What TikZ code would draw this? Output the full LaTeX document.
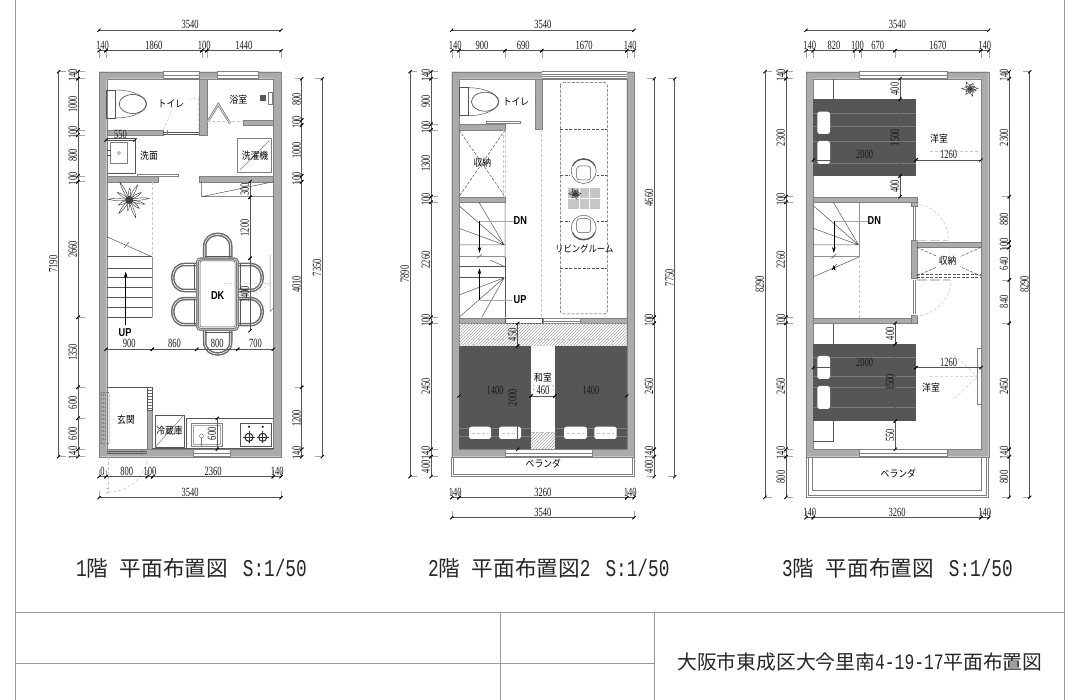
\documentclass[tikz,border=0pt]{standalone}
\usepackage{fontspec}
\usetikzlibrary{patterns,arrows.meta}
\setmainfont{Liberation Serif}
\newfontfamily\dimf[FakeStretch=0.68]{Liberation Serif}
\newfontfamily\cjkf[FakeStretch=0.88]{Noto Sans CJK JP}
\newfontfamily\ttlc{Noto Sans CJK JP}
\newfontfamily\ttlm[FakeStretch=0.74]{Liberation Mono}
\newfontfamily\sansb[FakeStretch=0.8]{Liberation Sans}
\definecolor{wallc}{HTML}{ABABAB}
\definecolor{bedc}{HTML}{565656}
\definecolor{linec}{HTML}{555555}
\definecolor{framec}{HTML}{999999}
\newcommand\tm{\ttlm\fontsize{24}{24}\selectfont}
\newcommand\tc{\ttlc\fontsize{21.6}{22}\selectfont}
\tikzset{
  wall/.style={fill=wallc,draw=gray,line width=.3pt},
  thin/.style={draw=linec,line width=.5pt},
  lit/.style={draw=gray!45,line width=.5pt,dash pattern=on 3pt off 2pt},
  dd/.style={draw=linec,line width=.5pt,dash pattern=on 3pt off 1.5pt},
  dl/.style={draw=linec,line width=.55pt},
  ext/.style={draw=gray!70,line width=.4pt},
  tick/.style={draw=black,line width=.9pt},
  dimt/.style={font=\dimf\fontsize{12.5}{12.5}\selectfont,text=black!90,inner sep=0pt},
  lab/.style={font=\cjkf\fontsize{10}{10}\selectfont,text=black,inner sep=0pt},
  bold/.style={font=\sansb\bfseries\fontsize{11.5}{11.5}\selectfont,inner sep=0pt},
  ttl/.style={anchor=west,inner sep=0pt,text=black!85},
  seat/.style={draw=gray!85!black,line width=1.5pt,double=white,double distance=.6pt},
  bedf/.style={fill=bedc},
  stripe/.style={draw=bedc!78!white,line width=.8pt},
  pillow/.style={fill=white,rounded corners=2.5pt}
}
\newcommand\tk[2]{\draw[tick] ({#1-1.6},{#2+1.6}) -- ({#1+1.6},{#2-1.6});}
% horizontal chain: y, ext length, list of x1/x2/label
\newcommand\hc[3]{\foreach \a/\b/\t in {#3}{%
  \draw[dl] (\a,#1) -- (\b,#1);
  \draw[ext] (\a,#1) -- (\a,{#1+#2}); \draw[ext] (\b,#1) -- (\b,{#1+#2});
  \tk{\a}{#1}\tk{\b}{#1}
  \node[dimt] at ({(\a+\b)/2},{#1-5.4}) {\t};}}
% vertical chain: x, ext length (signed), list of y1/y2/label
\newcommand\vc[3]{\foreach \a/\b/\t in {#3}{%
  \draw[dl] (#1,\a) -- (#1,\b);
  \draw[ext] (#1,\a) -- ({#1+#2},\a); \draw[ext] (#1,\b) -- ({#1+#2},\b);
  \tk{#1}{\a}\tk{#1}{\b}
  \node[dimt,rotate=90] at ({#1-5.2},{(\a+\b)/2}) {\t};}}
\newcommand\win[4]{\fill[white] (#1,#2) rectangle (#3,#4);
  \draw[thin,draw=gray] (#1,#2) rectangle (#3,#4);
  \draw[thin,draw=gray] (#1,{(#2+#4)/2}) -- (#3,{(#2+#4)/2});}
\newcommand\chairm[3]{\begin{scope}[shift={(#1,#2)},rotate=#3]
  \draw[seat] (-13,0) -- (-13,-12) .. controls (-13,-28) and (13,-28) .. (13,-12) -- (13,0);
  \draw[thin] (-13,-2) -- (13,-2);
  \end{scope}}
\newcommand\toilet[2]{%
  \draw[thin] (#1,{#2-14}) rectangle ({#1+9},{#2+14});
  \draw[thin] ({#1+9},{#2-14}) .. controls ({#1+27},{#2-14}) and ({#1+40},{#2-7}) .. ({#1+40},#2)
     .. controls ({#1+40},{#2+7}) and ({#1+27},{#2+14}) .. ({#1+9},{#2+14});
  \draw[linec,line width=.7pt] ({#1+26},#2) ellipse [x radius=13.5pt,y radius=9.5pt];}
\newcommand\plant[3]{\begin{scope}[shift={(#1,#2)}]
  \foreach \r/\l in {5/1,32/.7,61/.85,88/.6,118/1,147/.7,178/1.05,205/.6,232/.85,262/.55,290/.95,320/.65,345/.8}{
   \begin{scope}[rotate=\r]
   \draw[draw=black!80,line width=.4pt] (0,0) .. controls ({#3*\l*.4},-1.6) and ({#3*\l*.75},-1.4) .. ({#3*\l},0)
     .. controls ({#3*\l*.75},1.4) and ({#3*\l*.4},1.6) .. (0,0);
   \end{scope}}
  \fill[black!75] (0,0) circle [radius=#3*.2pt];
  \end{scope}}
\newcommand\armchair[3]{\begin{scope}[shift={(#1,#2)},rotate=#3]
  \draw[thin] (0,0) circle [radius=12.5pt];
  \draw[thin,rounded corners=3pt] (-7,-5) rectangle (7,9);
  \draw[line width=1.2pt,linec] (-11,-5) .. controls (-8,-14) and (8,-14) .. (11,-5);
  \end{scope}}
\newcommand\stairtop{%
  \draw[thin] (20,202.3) -- (45.3,245) (0,205.7) -- (45.3,245) (0,228.3) -- (45.3,245)
     (0,245) -- (45.3,245) (0,256.7) -- (46,256.7) (46,202.3) -- (46,256.7);
  \draw[ext] (20.5,221) -- (55,221);
  \draw[draw=black,line width=.5pt,-{Stealth[length=6pt,width=3.5pt]}] (20.5,221) -- (20.5,253);
  \draw[thin] (18,258.5) -- (23,254);}
\begin{document}
\begin{tikzpicture}[x=1pt,y=-1pt]
\useasboundingbox (0,0) rectangle (1080,700);
\fill[white] (0,0) rectangle (1080,700);
% ---------- frame ----------
\draw[framec,line width=.7pt] (15,0) -- (15,700) (1064.5,0) -- (1064.5,700);
\draw[framec,line width=.7pt] (15,612.5) -- (1064.5,612.5) (15,663.5) -- (654.5,663.5);
\draw[framec,line width=.6pt] (500.5,612.5) -- (500.5,700) (654.5,612.5) -- (654.5,700);
% ---------- titles ----------
\node[ttl] at (76,568) {{\tm 1}{\tc 階}\hspace{11.4pt}{\tc 平面布置図}\hspace{15pt}{\tm S:1/50}};
\node[ttl] at (428,568) {{\tm 2}{\tc 階}\hspace{11.4pt}{\tc 平面布置図}{\tm 2}\hspace{15pt}{\tm S:1/50}};
\node[ttl] at (782,568) {{\tm 3}{\tc 階}\hspace{11.4pt}{\tc 平面布置図}\hspace{15pt}{\tm S:1/50}};
\node[ttl] at (677,662) {{\ttlc\fontsize{19.8}{20}\selectfont 大阪市東成区大今里南}{\ttlm\fontsize{22}{22}\selectfont 4-19-17}{\ttlc\fontsize{19.8}{20}\selectfont 平面布置図}};

% =================== FLOOR 1 ===================
\fill[wall,even odd rule] (99,71.7) rectangle (281,456.7) (106.7,78.7) rectangle (273.5,449.3);
\win{163.3}{71.7}{199.3}{78.7}
\win{217.3}{71.7}{258.3}{78.7}
\win{193.3}{449.3}{230}{456.7}
\fill[wall] (199.3,78.7) rectangle (207,135);
\fill[wall] (106.7,130) rectangle (163.3,135);
\fill[wall] (243.3,120) rectangle (273.5,125);
\fill[wall] (106.7,176) rectangle (157.7,181.7);
\fill[wall] (199,176) rectangle (273.5,181.7);
\fill[wall] (147.3,410) rectangle (152.3,449.3);
\fill[pattern=horizontal lines,pattern color=gray!80!black] (147.3,387.3) rectangle (152.3,410);
\draw[thin] (147.3,387.3) rectangle (152.3,410);
\draw[thin] (106.7,387.3) -- (147.3,387.3);
% toilet & doors
\toilet{106.7}{104}
\draw[thin] (163.3,132) -- (199.3,132) (163.3,134) -- (199.3,134);
\draw[lit] (163.3,130) -- (171.5,111.5) (198.3,98) -- (198.3,130) (188,99.3) -- (198.3,98);
\draw[thin,draw=gray] (167,130.5) -- (167,135.5);
% bath
\draw[draw=gray,line width=.9pt,double=white,double distance=.5pt] (207.7,121.7) -- (218.3,104.3) -- (230,123.3);
\draw[lit] (207,121.7) -- (243.3,121.7);
\fill[black!65] (259.7,95.3) rectangle (265.7,101.3);
\draw[thin,draw=gray] (268,92) rectangle (272.5,104);
% sink
\draw[thin] (106.7,138) -- (135,138) -- (135,173.5) -- (106.7,173.5);
\draw[thin,draw=gray] (110.7,142.3) rectangle (127.7,163.3);
\draw[thin,draw=gray] (119,153) circle [radius=1.5pt];
\draw[thin] (106.7,150) -- (111,150) (106.7,155) -- (111,155);
\fill[white] (137.3,174) rectangle (178.7,176.3);
\draw[thin,draw=gray] (137.3,174) rectangle (178.7,176.3);
% washer
\draw[line width=.9pt,draw=gray] (237.7,138.3) rectangle (271.7,172.3);
\draw[thin,draw=gray] (240,170) -- (269.5,140.5);
% step
\draw[thin] (201.7,181.7) -- (201.7,196.7) -- (273.5,196.7) (201.7,196.7) -- (273.5,181.7);
% plant
\plant{129.3}{200}{20}
% stairs
\draw[lit] (152.3,181.7) -- (152.3,256.7);
\draw[thin] (106.7,236.7) -- (151.7,256.7) (152.3,256.7) -- (152.3,317.3);
\foreach \y in {256.7,268.3,277.7,287.7,297.3,307.7,317.3}{\draw[thin] (106.7,\y) -- (152.3,\y);}
\draw[thin] (124,248) -- (129,242);
\draw[draw=black,line width=.5pt,-{Stealth[length=6pt,width=3.5pt]}] (125.7,325) -- (125.7,271.7);
\node[bold] at (125,332.7) {UP};
% table + chairs
\chairm{217.7}{258.3}{0}
\chairm{217.7}{330}{180}
\chairm{196.7}{277.5}{90}
\chairm{196.7}{311.7}{90}
\chairm{238.3}{277.5}{-90}
\chairm{238.3}{311.7}{-90}
\fill[white,rounded corners=3pt] (196.7,258.3) rectangle (238.3,330);
\draw[draw=gray,line width=1.3pt,double=white,double distance=.4pt,rounded corners=3pt] (197.5,259) rectangle (237.5,329.5);
\draw[thin,rounded corners=2pt] (200,261) rectangle (235,327);
\node[bold] at (217.7,295.7) {DK};
% side window
\draw[thin,draw=gray] (270,255) -- (270,311.7) -- (273.3,308);
\draw[lit] (224,283.5) -- (270,283.5) (247,300) -- (270,283.5);
% entry
\draw[thin,dash pattern=on 3pt off 1pt,rounded corners=1pt] (101,392.3) rectangle (109,444);
\foreach \x in {103,105,107}{\draw[draw=gray,line width=.5pt,dash pattern=on 2pt off 2pt] (\x,394) -- (\x,442);}
\draw[thin] (106.7,451.5) -- (147.3,451.5) (106.7,453.5) -- (147.3,453.5);
\draw[thin,draw=gray] (141,449.5) .. controls (144,451) and (144,454) .. (141,455.5);
\draw[lit] (147.3,456.7) .. controls (146,476) and (130,492) .. (108,492);
\draw[lit] (108,456.7) -- (108,492) (106,492) -- (110,492) (106,488) -- (110,488);
% fridge
\draw[thin,line width=.8pt] (155,415) rectangle (184,447.3);
\draw[thin,draw=gray] (155,447.3) -- (184,415);
% counter
\draw[thin] (186.7,449.3) -- (186.7,418.3) -- (273.5,418.3);
\draw[thin] (152.3,448.3) -- (273.5,448.3);
\draw[thin,draw=gray] (191,423.3) rectangle (222.3,446.7);
\draw[thin,draw=gray!70] (193,425.3) rectangle (220.3,444.7);
\draw[thin,draw=gray] (201.5,436) circle [radius=2pt];
\draw[thin,draw=gray] (201.5,438) -- (201.5,446);
\draw[thin,line width=.7pt] (240.7,423.3) rectangle (271.7,446.7);
\foreach \x in {249,262.7}{
  \fill[black] (\x,426.7) circle [radius=1.1pt];
  \draw[line width=1.1pt,draw=black!80] (\x,437.3) circle [radius=4pt];
  \draw[line width=.7pt,draw=black!80] (\x-6,437.3) -- (\x+6,437.3) (\x,431.3) -- (\x,443.3);}
% labels
\node[lab] at (171,104) {トイレ};
\node[lab] at (238.3,99.3) {浴室};
\node[lab] at (149,156) {洗面};
\node[lab] at (255,155.7) {洗濯機};
\node[lab] at (126,420) {玄関};
\node[lab] at (169.5,431) {冷蔵庫};
% dims
\hc{30.3}{0}{99/281/3540}
\hc{50.7}{7}{99/106/140,106/201.7/1860,201.7/206.7/100,206.7/281/1440}
\hc{140}{0}{106/135/550}
\hc{349.3}{0}{106/152.3/900,152.3/196.7/860,196.7/237.7/800,237.7/273.3/700}
\hc{476.7}{-7}{99/106/0,106/147.3/800,147.3/152.7/100,152.7/273.3/2360,273.3/281/140}
\hc{497.7}{-7}{99/281/3540}
\vc{78}{7}{71.7/78.7/140,78.7/130/1000,130/135/100,135/176/800,176/181.7/100,181.7/317.3/2660,317.3/387.3/1350,387.3/418.3/600,418.3/449.3/600,449.3/456.7/140}
\vc{58.5}{7}{71.7/456.7/7190}
\vc{301.7}{-7}{78.7/120/800,120/125/100,125/175.7/1000,175.7/181.7/100,181.7/387.3/4010,387.3/449.3/1200,449.3/456.7/140}
\vc{322.3}{-7}{78.7/456.7/7350}
\vc{250}{0}{181.7/197.3/300,197.3/258.3/1200,258.3/330.7/1400}
\vc{217.3}{0}{418.3/449.3/600}

% =================== FLOOR 2 ===================
\fill[wall,even odd rule] (451.7,71.7) rectangle (634,456.7) (459,78.7) rectangle (626.7,449.3);
\fill[white] (541.7,71.7) rectangle (626.7,78.7);
\draw[thin,draw=gray] (541.7,71.7) -- (626.7,71.7) (541.7,74) -- (626.7,74) (541.7,76) -- (626.7,76) (541.7,78.7) -- (626.7,78.7);
\win{505}{449.3}{592.7}{456.7}
\fill[wall] (535,78.7) rectangle (541.7,129.3);
\draw[lit] (541,129.3) -- (541,318.3);
\toilet{459}{101.7}
\fill[white] (486.7,121.3) rectangle (520.7,123.7);
\draw[thin,draw=gray] (486.7,121.3) rectangle (520.7,123.7);
\fill[wall] (459,124.3) rectangle (505,130);
\fill[wall] (459,196.7) rectangle (505,202.3);
\draw[dd] (459,130) -- (505,196.7) (505,130) -- (459,196.7);
\draw[lit] (503,130) -- (503,196.7) (505,130) -- (505,196.7);
\begin{scope}[shift={(459,0)}]
  \stairtop
  \draw[thin] (0,266.7) -- (46,266.7) (46,256.7) -- (46,317.3) (0,277.7) -- (45.3,277.7);
  \draw[thin] (31,260) -- (46,266.7);
  \draw[thin] (45.3,277.7) -- (0,295) (45.3,277.7) -- (0,317.3) (45.3,277.7) -- (22.7,317.3);
  \draw[ext] (20.5,300) -- (53,300);
  \draw[draw=black,line width=.5pt,-{Stealth[length=6pt,width=3.5pt]}] (20.5,300) -- (20.5,268.3);
\end{scope}
\node[bold] at (520.3,221) {DN};
\node[bold] at (520,300) {UP};
% living
\draw[dd,rounded corners=3pt] (560.3,82.3) rectangle (607.3,314);
\foreach \y in {129,175,221,268}{\draw[dd] (560.3,\y) -- (607.3,\y);}
\fill[white] (570,160) rectangle (597,240);
\armchair{583.7}{171}{0}
\armchair{583.7}{227.7}{180}
\fill[gray!45] (568.3,188.3) rectangle (600,209);
\draw[white,line width=.6pt] (578.9,188.3) -- (578.9,209) (589.4,188.3) -- (589.4,209) (568.3,198.6) -- (600,198.6);
\plant{575}{194}{6}
\node[lab,font=\cjkf\fontsize{9.5}{10}\selectfont] at (584.3,249.3) {リビングルーム};
% bottom wall of living
\fill[wall] (459,318.3) rectangle (505,323.3);
\fill[wall] (580,318.3) rectangle (626.7,323.3);
\draw[thin] (505,318.3) rectangle (542,323.3);
\win{543}{318.3}{580}{323.3}
% tatami
\fill[pattern=north east lines,pattern color=gray!70] (459,323.3) rectangle (626.7,346);
\draw[lit] (473.3,346) -- (473.3,339.3) -- (612.3,339.3) -- (612.3,346);
\fill[bedf] (459,346) rectangle (531,449.3);
\fill[bedf] (555,346) rectangle (626.7,449.3);
\fill[pattern=north east lines,pattern color=gray!70] (531,432.7) rectangle (555,449.3);
\draw[lit] (531,432.7) -- (555,432.7);
\foreach \y in {428.3,436.7}{\draw[stripe] (459,\y) -- (531,\y) (555,\y) -- (626.7,\y);}
\foreach \x/\w in {469/22,499/22,564/23,594.3/22.4}{
  \fill[pillow] (\x,426.7) rectangle (\x+\w,439);
  \draw[lit,draw=gray!45] (\x+3,433) -- (\x+\w-3,433);}
\node[lab] at (543,377.3) {和室};
\draw[lit] (533,391) -- (533,385) -- (553,385) -- (553,391);
% balcony
\draw[draw=gray,line width=.6pt] (451.7,456.7) -- (451.7,476.7) -- (634,476.7) -- (634,456.7);
\draw[draw=gray,line width=.5pt] (453.7,456.7) -- (453.7,474.3) -- (632,474.3) -- (632,456.7);
\node[lab] at (543.3,464) {ベランダ};
% labels
\node[lab] at (516,101.7) {トイレ};
\node[lab] at (482.3,162.7) {収納};
% dims
\hc{30.3}{0}{451.7/634/3540}
\hc{50.7}{7}{451.7/459/140,459/505/900,505/541.7/690,541.7/626.7/1670,626.7/634/140}
\hc{396}{0}{459/531/1400,531/555/460,555/626.7/1400}
\hc{497.7}{-7}{451.7/459/140,459/626.7/3260,626.7/634/140}
\hc{517.7}{-7}{451.7/634/3540}
\vc{431}{7}{71.7/78.7/140,78.7/124.3/900,124.3/130/100,130/196.7/1300,196.7/202.3/100,202.3/317.3/2260,317.3/323.3/100,323.3/449.3/2450,449.3/456.7/140,456.7/476.7/400}
\vc{410}{7}{71.7/476.7/7890}
\vc{654.3}{-7}{78.7/317.3/4660,317.3/323.3/100,323.3/449.3/2450,449.3/456.7/140,456.7/476.7/400}
\vc{674.7}{-7}{78.7/476.7/7750}
\vc{517.7}{0}{323.3/346/450,346/449.3/2000}

% =================== FLOOR 3 ===================
\fill[wall,even odd rule] (806,71.7) rectangle (988.7,456.7) (813.3,78.7) rectangle (981,449.3);
\win{859.3}{71.7}{947.3}{78.7}
\win{859.3}{449.3}{947.3}{456.7}
% beds
\draw[thin] (833.3,78.7) -- (833.3,99.3);
\fill[bedf] (813.3,99.3) rectangle (916,176);
\foreach \y in {113,126.7,141.7,163.3}{\draw[stripe] (813.3,\y) -- (916,\y);}
\fill[pillow] (817.3,111.7) rectangle (830,134);
\fill[pillow] (817.3,141) rectangle (830,164);
\draw[thin] (833.3,323.3) -- (833.3,344) (833.3,421) -- (833.3,441.7) -- (813.3,441.7);
\fill[bedf] (813.3,344) rectangle (916,421);
\foreach \y in {357.3,376.7,387.3,407.7}{\draw[stripe] (813.3,\y) -- (916,\y);}
\fill[pillow] (817.3,356) rectangle (830,379);
\fill[pillow] (817.3,386) rectangle (830,409);
% walls
\fill[wall] (813.3,196.7) rectangle (916.7,202.3);
\fill[wall] (910.7,202.3) rectangle (916.7,206);
\fill[wall] (910.7,240) rectangle (916.7,278.3);
\fill[wall] (916.7,242.3) rectangle (981,247.3);
\fill[wall] (813.3,318.3) rectangle (916.7,323.3);
\fill[wall] (910.7,315) rectangle (916.7,323.3);
% storage
\draw[dd] (916.7,247.3) -- (981,276) (981,247.3) -- (916.7,276);
\fill[white] (936,254) rectangle (960,268);
\draw[dd] (916.7,274.3) -- (981,274.3) (916.7,277.3) -- (981,277.3);
\node[lab] at (947.7,260.7) {収納};
% doors
\draw[thin,draw=gray] (913,206.7) -- (913,240) (915,206.7) -- (915,240);
\draw[lit] (915,204.3) .. controls (933,204.3) and (948.3,220) .. (948.3,240);
\draw[draw=gray!40,line width=1.5pt,dash pattern=on 10pt off 3pt] (916.7,240.3) -- (948,240.3);
\draw[thin,draw=gray] (913,280) -- (913,314) (915,280) -- (915,314);
\draw[lit] (915,316) .. controls (933,316) and (951,300) .. (951,280);
\draw[draw=gray!40,line width=1.5pt,dash pattern=on 10pt off 3pt] (916.7,280) -- (950,280);
% stairs
\begin{scope}[shift={(813.3,0)}]
  \stairtop
  \draw[thin] (46,257) -- (0,276.7);
  \draw[thin] (18.5,270) -- (23.5,264);
  \draw[draw=black,line width=.5pt,-{Stealth[length=5pt,width=3.5pt]}] (20.5,270) -- (20.5,265);
\end{scope}
\draw[lit] (859.3,260) -- (859.3,318.3);
\node[bold] at (874.3,221) {DN};
% ceiling light / side window
\plant{970}{89}{8}
\draw[thin,draw=gray] (981,348) -- (977.3,348) -- (977.3,404) -- (981,404);
\draw[lit] (930,376.7) -- (977.3,376.7) (954,355) -- (977.3,376.7) -- (954,399);
\draw[lit] (930,151.7) -- (978,151.7);
% balcony
\draw[draw=gray,line width=.6pt] (806,456.7) -- (806,497.3) -- (988.7,497.3) -- (988.7,456.7);
\draw[draw=gray,line width=.5pt] (808.7,456.7) -- (808.7,495) -- (986,495) -- (986,456.7);
\draw[draw=gray,line width=.5pt] (812.7,456.7) -- (812.7,490) -- (981.7,490) -- (981.7,456.7);
\node[lab] at (898.3,473.3) {ベランダ};
\node[lab] at (939,138.3) {洋室};
\node[lab] at (931,387.7) {洋室};
% dims
\hc{30.3}{0}{806/988.7/3540}
\hc{50.7}{7}{806/813.3/140,813.3/854.5/820,854.5/860.7/100,860.7/895/670,895/980.7/1670,980.7/988.7/140}
\hc{160}{0}{813.3/916/2000,916/981/1260}
\hc{367.7}{0}{813.3/916/2000,916/981/1260}
\hc{517.7}{-7}{806/813.3/140,813.3/981/3260,981/988.7/140}
\vc{786}{7}{71.7/78.7/140,78.7/196.7/2300,196.7/202.3/100,202.3/317.3/2260,317.3/323.3/100,323.3/449.3/2450,449.3/456.7/140,456.7/497.3/800}
\vc{765}{7}{71.7/497.3/8290}
\vc{1009.3}{-7}{71.7/78.7/140,78.7/196.7/2300,196.7/242.3/880,242.3/247.3/100,247.3/280/640,280/323.3/840,323.3/449.3/2450,449.3/456.7/140,456.7/497.3/800}
\vc{1029.7}{-7}{71.7/497.3/8290}
\vc{900}{0}{78.7/99.3/400,99.3/176/1500,176/196.7/400}
\vc{895.3}{0}{323.3/344/400,344/421/1500,421/449.3/550}
\end{tikzpicture}
\end{document}
